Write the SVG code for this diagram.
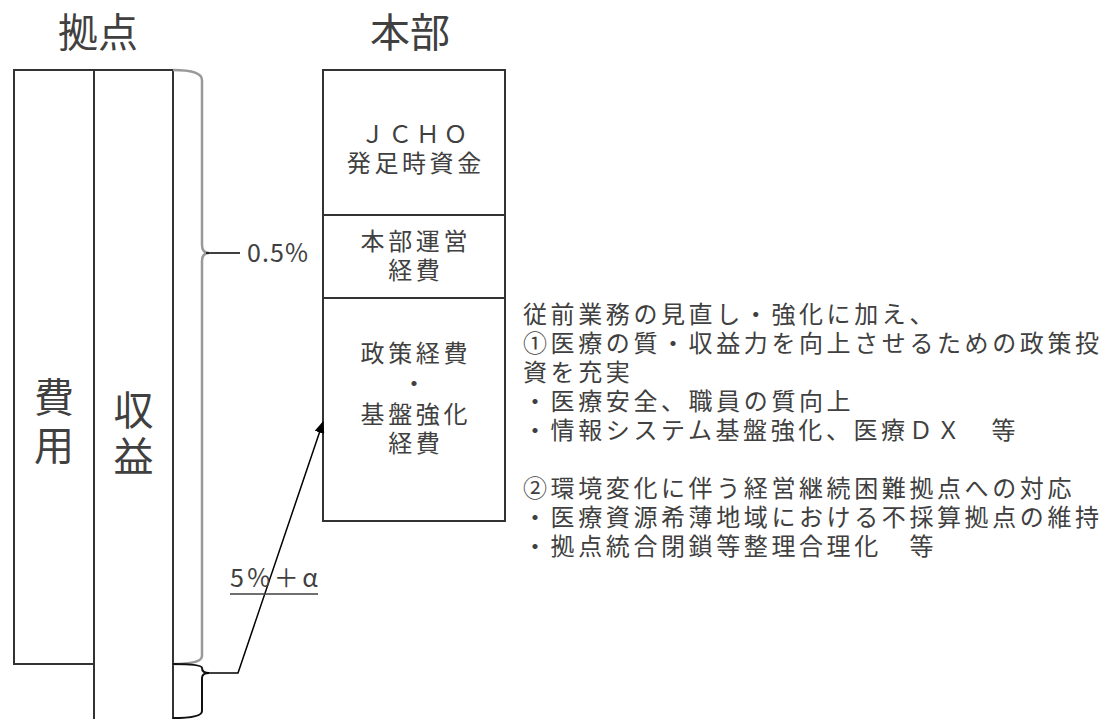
<svg xmlns="http://www.w3.org/2000/svg" width="1110" height="719" viewBox="0 0 1110 719">
<style>
.bx{fill:#ffffff;stroke:#333333;stroke-width:2}
.t{font-family:"Noto Sans CJK JP","Noto Sans",sans-serif;fill:#404040}
.j{font-size:24px;letter-spacing:3.6px}
.big{font-size:40px}
.c{text-anchor:middle}
.num{font-family:"Noto Sans CJK JP","Noto Sans",sans-serif;font-size:25px;fill:#404040}
</style>
<defs>
<marker id="ah" viewBox="0 0 12 10" refX="11" refY="5" markerWidth="12" markerHeight="10" markerUnits="userSpaceOnUse" orient="auto">
<path d="M0,0 L12,5 L0,10 Z" fill="#000000"/>
</marker>
</defs>
<rect width="1110" height="719" fill="#ffffff"/>

<g id="title-kyoten"><text class="t big c" x="98" y="47">拠点</text></g>
<g id="title-honbu"><text class="t big c" x="410" y="47">本部</text></g>

<g id="hiyou">
<rect class="bx" x="14" y="70" width="80" height="594"/>
<text class="t big c" x="54" y="412">費</text>
<text class="t big c" x="54" y="460">用</text>
</g>
<g id="shueki">
<rect class="bx" x="94" y="70" width="79" height="660"/>
<text class="t big c" x="133.5" y="425">収</text>
<text class="t big c" x="133.5" y="471">益</text>
</g>

<g id="honbu">
<rect class="bx" x="323" y="70" width="182" height="451"/>
<line class="bx" x1="323" y1="215" x2="505" y2="215"/>
<line class="bx" x1="323" y1="298" x2="505" y2="298"/>
</g>
<g id="honbu-jcho">
<text class="t j c" x="415.8" y="143">ＪＣＨＯ</text>
<text class="t j c" x="415.8" y="172">発足時資金</text>
</g>
<g id="honbu-unei">
<text class="t j c" x="415.8" y="250">本部運営</text>
<text class="t j c" x="415.8" y="279">経費</text>
</g>
<g id="honbu-seisaku">
<text class="t j c" x="415.8" y="362">政策経費</text>
<text class="t j c" x="415.8" y="392">・</text>
<text class="t j c" x="415.8" y="423">基盤強化</text>
<text class="t j c" x="415.8" y="452">経費</text>
</g>

<g id="desc">
<text class="t j" x="523" y="323">従前業務の見直し・強化に加え、</text>
<text class="t j" x="523" y="352">①医療の質・収益力を向上させるための政策投</text>
<text class="t j" x="523" y="381">資を充実</text>
<text class="t j" x="523" y="410">・医療安全、職員の質向上</text>
<text class="t j" x="523" y="439">・情報システム基盤強化、医療ＤＸ　等</text>
<text class="t j" x="523" y="497">②環境変化に伴う経営継続困難拠点への対応</text>
<text class="t j" x="523" y="526">・医療資源希薄地域における不採算拠点の維持</text>
<text class="t j" x="523" y="555">・拠点統合閉鎖等整理合理化　等</text>
</g>

<g id="connectors">
<path d="M173,70 Q202,70 202,80 L202,245 Q202,253 209,253 Q202,253 202,261 L202,656 Q202,664 173,664" fill="none" stroke="#999999" stroke-width="2.5"/>
<line x1="206" y1="253" x2="240" y2="253" stroke="#000000" stroke-width="1.5"/>
<path d="M173,664 Q202,664 202,668 Q202,673 209,673 Q202,673 202,678 L202,711 Q202,718 173,718" fill="none" stroke="#111111" stroke-width="2"/>
<polyline points="206,673 238,673 323,422" fill="none" stroke="#000000" stroke-width="1.5" marker-end="url(#ah)"/>
</g>

<g id="label-05"><text class="num" x="247" y="262" textLength="61" lengthAdjust="spacing">0.5%</text></g>
<g id="label-5a">
<text class="num" x="230" y="587" textLength="88" lengthAdjust="spacing">5%＋α</text>
<line x1="230" y1="594" x2="318" y2="594" stroke="#404040" stroke-width="1.5"/>
</g>
</svg>
